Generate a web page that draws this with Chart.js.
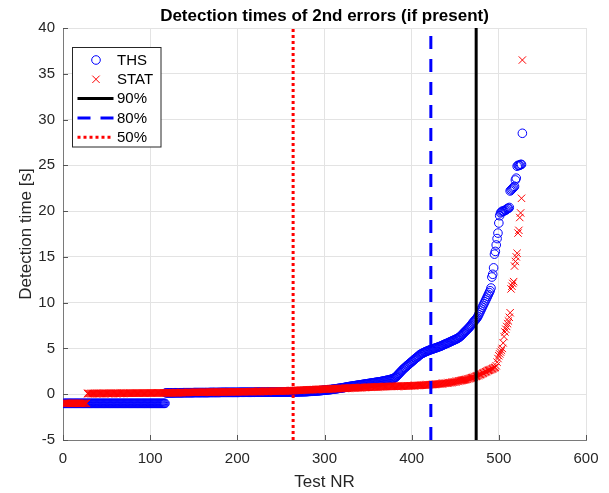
<!DOCTYPE html>
<html>
<head>
<meta charset="utf-8">
<title>Detection times of 2nd errors (if present)</title>
<script src="https://cdn.jsdelivr.net/npm/chart.js"></script>
<style>
  html, body { margin: 0; padding: 0; background: #fff; }
</style>
</head>
<body>
<canvas id="chart" width="609" height="493"></canvas>
<script>
// Test NR runs 1..527; value i belongs to test i+1
// THS detection times [s] (blue circles)
const thsY = [
  -1,-1,-1,-1,-1,-1,-1,-1,-1,-1,-1,-1,-1,-1,-1,-1,-1,-1,-1,-1,-1,-1,-1,-1,-1,-1,-1,-1,-1,-1,
  -1,-1,-1,-1,-1,-1,-1,-1,-1,-1,-1,-1,-1,-1,-1,-1,-1,-1,-1,-1,-1,-1,-1,-1,-1,-1,-1,-1,-1,-1,
  -1,-1,-1,-1,-1,-1,-1,-1,-1,-1,-1,-1,-1,-1,-1,-1,-1,-1,-1,-1,-1,-1,-1,-1,-1,-1,-1,-1,-1,-1,
  -1,-1,-1,-1,-1,-1,-1,-1,-1,-1,-1,-1,-1,-1,-1,-1,-1,-1,-1,-1,-1,-1,-1,-1,-1,-1,-1,
  0.15,0.15,0.15,0.15,0.15,0.15,0.15,0.15,0.15,0.15,
  0.16,0.16,0.16,0.16,0.16,0.16,0.16,0.16,0.16,0.16,
  0.17,0.17,0.17,0.17,0.17,0.17,0.17,0.17,0.17,0.17,
  0.17,0.17,0.18,0.18,0.18,0.18,0.18,0.18,0.18,0.18,
  0.18,0.18,0.18,0.18,0.18,0.18,0.18,0.18,0.18,0.18,
  0.19,0.19,0.19,0.19,0.19,0.19,0.19,0.19,0.19,0.19,
  0.19,0.19,0.19,0.2,0.2,0.2,0.2,0.2,0.2,0.2,
  0.2,0.2,0.2,0.2,0.2,0.2,0.2,0.2,0.2,0.2,
  0.2,0.2,0.2,0.2,0.2,0.21,0.21,0.21,0.21,0.21,
  0.21,0.21,0.21,0.21,0.21,0.21,0.21,0.21,0.21,0.21,
  0.21,0.21,0.21,0.22,0.22,0.22,0.22,0.22,0.22,0.22,
  0.22,0.22,0.22,0.22,0.22,0.22,0.22,0.22,0.23,0.23,
  0.23,0.23,0.23,0.23,0.23,0.23,0.23,0.23,0.23,0.23,
  0.23,0.23,0.23,0.23,0.24,0.24,0.24,0.24,0.24,0.24,
  0.24,0.24,0.24,0.25,0.25,0.25,0.25,0.25,0.25,0.25,
  0.25,0.26,0.26,0.26,0.27,0.27,0.27,0.27,0.28,0.28,
  0.28,0.28,0.29,
  0.3,0.3,0.31,0.31,0.32,0.32,0.33,0.34,0.34,0.35,
  0.36,0.37,0.37,0.38,0.39,0.4,0.41,0.42,0.43,0.44,
  0.45,0.46,0.47,0.48,0.49,0.5,0.51,0.52,0.54,0.55,
  0.56,0.58,0.59,0.6,0.62,0.63,0.65,0.66,0.68,0.69,
  0.71,0.72,0.74,0.76,0.78,0.8,0.82,0.83,0.85,0.86,
  0.88,0.89,0.91,0.92,0.94,0.95,0.97,0.98,1.0,1.01,
  1.03,1.04,1.06,1.07,1.09,1.1,1.12,1.13,1.15,1.16,
  1.18,1.19,1.21,1.22,1.24,1.25,1.27,1.28,1.3,1.31,
  1.33,1.34,1.36,1.37,1.39,1.41,1.43,1.45,1.47,1.49,
  1.51,1.53,1.55,1.57,1.6,1.62,1.65,1.68,1.72,1.76,
  1.82,1.9,2.0,2.1,2.2,2.3,2.4,2.5,2.6,2.7,
  2.8,2.88,2.95,3.05,3.15,3.22,3.3,3.38,3.45,3.55,
  3.62,3.7,3.8,3.88,3.95,4.02,4.1,4.18,4.28,4.35,
  4.4,4.45,4.5,4.55,4.6,4.64,4.68,4.72,4.76,4.8,
  4.84,4.87,4.9,4.94,4.97,5.0,5.04,5.07,5.1,5.14,
  5.17,5.21,5.24,5.28,5.32,5.37,5.42,5.46,5.5,5.54,
  5.58,5.62,5.67,5.71,5.76,5.8,5.85,5.89,5.93,5.98,
  6.02,6.07,6.12,6.18,6.25,6.33,6.42,6.52,6.62,6.72,
  6.82,6.91,7.0,7.1,7.2,7.3,7.4,7.52,7.65,7.78,
  7.9,8.0,8.1,8.22,8.35,
  8.5,8.7,8.9,9.1,9.3,9.5,9.7,9.9,10.1,10.3,
  10.5,10.7,10.9,11.1,11.3,11.6,12.8,13.1,13.8,15.3,
  15.6,16.3,17.0,17.6,18.7,19.5,19.8,19.9,20.0,20.0,
  20.0,20.1,20.1,20.2,20.3,20.3,20.4,22.2,22.3,22.4,
  22.5,22.6,22.7,23.4,23.6,24.9,25.0,25.0,25.0,25.1,
  25.1,28.5];

// STAT detection times [s] (red crosses)
const statY = [
  -1,-1,-1,-1,-1,-1,-1,-1,-1,-1,-1,-1,-1,-1,-1,-1,-1,-1,-1,-1,-1,-1,-1,-1,-1,-1,-1,
  0.08,0.08,0.08,0.08,0.08,0.08,0.08,0.08,0.08,0.08,
  0.08,0.08,0.08,0.08,0.08,0.09,0.09,0.09,0.09,0.09,
  0.09,0.09,0.09,0.09,0.09,0.09,0.09,0.09,0.09,0.09,
  0.1,0.1,0.1,0.1,0.1,0.1,0.1,0.1,0.1,0.1,
  0.1,0.1,0.1,0.11,0.11,0.11,0.11,0.11,0.11,0.11,
  0.11,0.11,0.11,0.11,0.11,0.12,0.12,0.12,0.12,0.12,
  0.12,0.12,0.12,0.12,0.12,0.12,0.12,0.12,0.13,0.13,
  0.13,0.13,0.13,0.13,0.13,0.13,0.13,0.13,0.13,0.13,
  0.14,0.14,0.14,0.14,0.14,0.14,0.14,0.14,0.14,0.14,
  0.15,0.15,0.15,0.15,0.15,0.15,0.15,0.15,0.15,0.15,
  0.16,0.16,0.16,0.16,0.16,0.16,0.17,0.17,0.17,0.17,
  0.18,0.18,0.18,0.19,0.19,0.19,0.2,0.2,
  0.2,0.2,0.2,0.2,0.2,0.2,0.21,0.21,0.21,0.21,
  0.21,0.21,0.21,0.21,0.22,0.22,0.22,0.22,0.22,0.22,
  0.22,0.22,0.23,0.23,0.23,0.23,0.23,0.23,0.23,0.23,
  0.24,0.24,0.24,0.24,0.24,0.24,0.24,0.24,0.24,0.24,
  0.25,0.25,0.25,0.25,0.25,0.25,0.25,0.25,0.26,0.26,
  0.26,0.26,0.26,0.26,0.26,0.26,0.27,0.27,0.27,0.27,
  0.27,0.27,0.27,0.28,0.28,0.28,0.28,0.28,0.28,0.28,
  0.29,0.29,0.29,0.29,0.29,0.29,0.29,0.3,0.3,0.3,
  0.3,0.3,0.3,0.3,0.31,0.31,0.31,0.31,0.31,0.31,
  0.32,0.32,0.32,0.32,0.32,0.32,0.33,0.33,0.33,0.33,
  0.34,0.34,0.34,0.34,0.34,0.35,0.35,0.35,0.35,0.35,
  0.36,0.36,0.36,0.37,0.37,0.37,0.38,0.38,0.39,0.4,
  0.41,0.41,0.42,0.42,0.43,0.43,0.44,0.44,0.45,0.45,
  0.46,0.46,0.47,0.47,0.48,0.48,0.48,0.49,0.49,0.5,
  0.5,0.5,0.51,0.51,0.52,0.52,0.52,0.53,0.53,0.54,
  0.54,0.54,0.55,0.55,0.56,0.56,0.56,0.57,0.57,0.58,
  0.58,0.58,0.59,0.59,0.6,0.6,0.6,0.61,0.61,0.62,
  0.62,0.62,0.63,0.63,0.64,0.64,0.64,0.65,0.65,0.66,
  0.66,0.66,0.67,0.67,0.68,0.68,0.68,0.69,0.69,0.7,
  0.7,0.7,0.71,0.71,0.72,0.72,0.72,0.73,0.73,0.74,
  0.74,0.74,0.75,0.75,0.76,0.76,0.76,0.77,0.77,0.78,
  0.78,0.78,0.79,0.79,0.8,0.8,0.8,0.81,0.81,0.82,
  0.82,0.82,0.83,0.83,0.83,0.84,0.84,0.84,0.85,0.85,
  0.85,0.85,0.86,0.86,0.86,0.86,0.87,0.87,0.87,0.87,
  0.88,0.88,0.88,0.89,0.89,0.89,0.9,0.9,0.9,0.91,
  0.91,0.91,0.92,0.92,0.92,0.93,0.93,0.94,0.94,0.95,
  0.95,0.96,0.96,0.97,0.97,0.98,0.98,0.99,1.0,1.0,
  1.01,1.01,1.02,1.03,1.03,1.04,1.05,1.05,1.06,1.07,
  1.07,1.08,1.09,1.1,1.11,1.12,1.13,1.14,1.15,1.16,
  1.17,1.18,1.19,1.2,1.21,1.22,1.24,1.25,1.26,1.28,
  1.29,1.31,1.32,1.34,1.36,1.38,1.4,1.42,1.44,1.46,
  1.48,1.5,1.52,1.54,1.56,1.58,1.6,1.63,1.65,1.68,
  1.7,1.73,1.76,1.79,1.82,1.85,1.88,1.92,1.96,2.0,
  2.04,2.08,2.12,2.16,2.2,2.25,2.3,2.35,2.4,2.45,
  2.5,2.55,2.6,2.63,2.66,2.7,2.75,2.8,2.85,2.9,
  2.95,3.1,3.5,3.9,4.2,4.4,4.6,4.8,5.0,5.6,
  6.3,6.8,7.1,7.4,7.7,8.0,8.4,8.9,11.5,11.8,
  12.1,12.3,14.0,14.5,15.0,15.4,17.6,17.9,19.3,19.8,
  21.4,36.5];

// percentile markers (Test NR where 90/80/50 % of tests are covered)
const pctLabels = ['90%', '80%', '50%'];
const pctX = [474, 422, 264];
const pctColors = ['#000000', '#0000ff', '#ff0000'];
const pctDash = [[], [13, 10], [3, 3]];

const yMin = -5, yMax = 40;
const FONT = '"Liberation Sans", Arial, Helvetica, sans-serif';

const pts = ys => ys.map((y, i) => ({ x: i + 1, y: y }));

const datasets = [
  {
    label: 'THS', data: pts(thsY), order: 5,
    pointStyle: 'circle', pointRadius: 4.3, pointBorderWidth: 1,
    borderColor: '#0000ff', pointBorderColor: '#0000ff',
    backgroundColor: 'rgba(0,0,0,0)', pointBackgroundColor: 'rgba(0,0,0,0)', showLine: false
  },
  {
    label: 'STAT', data: pts(statY), order: 4,
    pointStyle: 'crossRot', pointRadius: 5.2, pointBorderWidth: 1,
    borderColor: '#ff0000', pointBorderColor: '#ff0000',
    backgroundColor: 'rgba(0,0,0,0)', pointBackgroundColor: 'rgba(0,0,0,0)', showLine: false
  }
];
pctLabels.forEach((lab, i) => {
  datasets.push({
    label: lab, data: [{ x: pctX[i], y: yMin }, { x: pctX[i], y: yMax }], order: i + 1,
    showLine: true, borderColor: pctColors[i], borderWidth: 3, borderDash: pctDash[i],
    pointRadius: 0, pointHitRadius: 0, fill: false
  });
});

// MATLAB style ticks pointing into the plot
const inTicks = {
  id: 'inTicks',
  afterDraw(c) {
    const ctx = c.ctx, a = c.chartArea, x = c.scales.x, y = c.scales.y;
    ctx.save();
    ctx.strokeStyle = '#555';
    ctx.lineWidth = 1;
    ctx.beginPath();
    x.ticks.forEach(t => {
      const p = Math.round(x.getPixelForValue(t.value)) + 0.5;
      ctx.moveTo(p, a.bottom); ctx.lineTo(p, a.bottom - 5);
    });
    y.ticks.forEach(t => {
      const p = Math.round(y.getPixelForValue(t.value)) + 0.5;
      ctx.moveTo(a.left, p); ctx.lineTo(a.left + 5, p);
    });
    ctx.stroke();
    ctx.restore();
  }
};

// legend box in the upper left corner of the axes
const boxLegend = {
  id: 'boxLegend',
  afterDraw(c) {
    const ctx = c.ctx;
    const L = 72.5, T = 47.5, W = 88.5, H = 99.5, step = 19.3;
    ctx.save();
    ctx.fillStyle = '#fff';
    ctx.fillRect(L, T, W, H);
    ctx.strokeStyle = '#262626';
    ctx.lineWidth = 1;
    ctx.strokeRect(L, T, W, H);
    ctx.font = '15px ' + FONT;
    ctx.textBaseline = 'middle';
    c.data.datasets.forEach((ds, i) => {
      const yy = T + 12.5 + i * step;
      const cx = L + 23.5;
      ctx.strokeStyle = ds.borderColor;
      if (ds.showLine) {
        ctx.lineWidth = ds.borderWidth;
        ctx.setLineDash(ds.borderDash);
        ctx.beginPath();
        ctx.moveTo(L + 5, yy); ctx.lineTo(L + 41, yy);
        ctx.stroke();
        ctx.setLineDash([]);
      } else if (ds.pointStyle === 'circle') {
        ctx.lineWidth = 1;
        ctx.beginPath();
        ctx.arc(cx, yy, ds.pointRadius, 0, Math.PI * 2);
        ctx.stroke();
      } else {
        const o = ds.pointRadius * Math.SQRT1_2;
        ctx.lineWidth = 1;
        ctx.beginPath();
        ctx.moveTo(cx - o, yy - o); ctx.lineTo(cx + o, yy + o);
        ctx.moveTo(cx - o, yy + o); ctx.lineTo(cx + o, yy - o);
        ctx.stroke();
      }
      ctx.fillStyle = '#000';
      ctx.fillText(ds.label, L + 44.5, yy + 0.5);
    });
    ctx.restore();
  }
};

new Chart(document.getElementById('chart'), {
  type: 'scatter',
  data: { datasets: datasets },
  plugins: [inTicks, boxLegend],
  options: {
    responsive: false,
    animation: false,
    events: [],
    layout: { padding: { left: 0, right: 23, top: 0, bottom: 0 } },
    plugins: {
      legend: { display: false },
      tooltip: { enabled: false },
      title: {
        display: true,
        text: 'Detection times of 2nd errors (if present)',
        color: '#000',
        fullSize: false,
        font: { family: FONT, size: 17, weight: 'bold' },
        padding: { top: 6, bottom: 1.6 }
      }
    },
    scales: {
      x: {
        type: 'linear', min: 0, max: 600,
        ticks: { stepSize: 100, color: '#262626', font: { family: FONT, size: 15 }, padding: 10, maxRotation: 0 },
        grid: { color: '#e3e3e3', drawTicks: false },
        border: { color: '#7a7a7a' },
        title: { display: true, text: 'Test NR', color: '#262626', font: { family: FONT, size: 17 }, padding: { top: 0, bottom: 0 } },
        afterFit: s => { s.height = 53; }
      },
      y: {
        type: 'linear', min: yMin, max: yMax,
        ticks: { stepSize: 5, color: '#262626', font: { family: FONT, size: 15 }, padding: 8 },
        grid: { color: '#e3e3e3', drawTicks: false },
        border: { color: '#7a7a7a' },
        title: { display: true, text: 'Detection time [s]', color: '#262626', font: { family: FONT, size: 17 }, padding: { top: 16, bottom: 0 } },
        afterFit: s => { s.width = 63; }
      }
    }
  }
});
</script>
</body>
</html>
